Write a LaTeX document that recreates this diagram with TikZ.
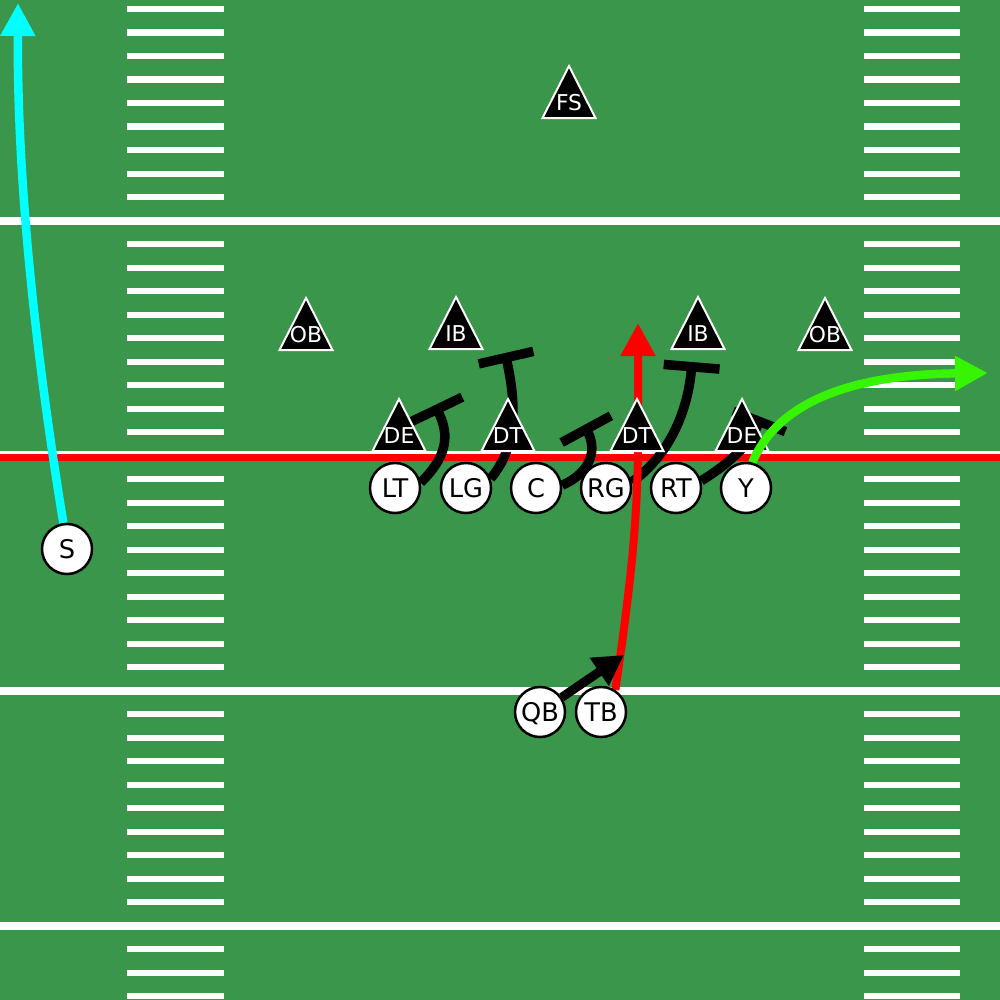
\documentclass[tikz,border=0pt]{standalone}
\usepackage{fontspec}
\setmainfont{DejaVu Sans}
\usetikzlibrary{arrows.meta}
\definecolor{field}{RGB}{58,150,75}
\definecolor{routegreen}{RGB}{55,245,0}
\definecolor{routecyan}{RGB}{0,255,255}
\definecolor{routered}{RGB}{255,0,0}
\pgfdeclarelayer{bg}
\pgfdeclarelayer{low}
\pgfdeclarelayer{tri}
\pgfdeclarelayer{high}
\pgfsetlayers{bg,low,tri,high,main}
\tikzset{
 player/.style={circle, draw=black, fill=white, line width=0.25mm, minimum size=5mm, inner sep=0pt,
   font=\fontsize{7.3pt}{7.3pt}\selectfont, text height=5.3pt, text depth=0pt},
 deflabel/.style={text=white, inner sep=0pt, font=\fontsize{6.2pt}{6.2pt}\selectfont,
   text height=4.5pt, text depth=0pt},
 deftri/.style={fill=black, draw=white, line width=0.2mm},
 block/.style={draw=black, line width=0.95mm, -{Bar[width=5.6mm]}},
 route/.style={line width=0.85mm, -{Triangle[length=3.3mm,width=3.3mm]}},
 hashmark/.style={white, line width=0.6mm},
 yardline/.style={white, line width=0.8mm},
}
\newcommand\Defender[4]{%
 \begin{pgfonlayer}{tri}
 \path[deftri] (#2-26.5,#3) -- (#2,#3-52) -- (#2+26.5,#3) -- cycle;
 \node[deflabel] (#1) at (#2,#3-15) {#4};
 \end{pgfonlayer}}
\begin{document}
\begin{tikzpicture}[x=0.01cm, y=-0.01cm]
\useasboundingbox (0,0) rectangle (1000,1000);
\begin{pgfonlayer}{bg}
\fill[field] (0,0) rectangle (1000,1000);
\foreach \k in {1,...,43} {
  \pgfmathsetmacro\yy{-14.5+23.5*\k}
  \draw[hashmark] (127,\yy) -- (224,\yy);
  \draw[hashmark] (864,\yy) -- (960,\yy);
}
\foreach \yy in {220.5,455,690.5,925.5} \draw[yardline] (0,\yy) -- (1000,\yy);
\draw[routered, line width=0.7mm] (0,457.5) -- (1000,457.5);
\end{pgfonlayer}

% offense
\node[player] (pLT) at (395,488) {LT};
\node[player] (pLG) at (466,488) {LG};
\node[player] (pC)  at (536,488) {C};
\node[player] (pRG) at (606,488) {RG};
\node[player] (pRT) at (676,488) {RT};
\node[player] (pY)  at (746,488) {Y};
\node[player] (pS)  at (67,549) {S};
\node[player] (pQB) at (540,712) {QB};
\node[player] (pTB) at (601,712) {TB};

% defense
\Defender{dFS}{569}{118}{FS}
\Defender{dOBL}{306}{350}{OB}
\Defender{dIBL}{456}{349}{IB}
\Defender{dIBR}{698}{349}{IB}
\Defender{dOBR}{825}{350}{OB}
\Defender{dDEL}{399}{451}{DE}
\Defender{dDTL}{508}{451}{DT}
\Defender{dDTR}{637}{451}{DT}
\Defender{dDER}{742}{451}{DE}

% route ends
\coordinate (bLT) at (435,405);
\coordinate (bLG) at (505,353);
\coordinate (bC)  at (584,425);
\coordinate (bRG) at (692,362);
\coordinate (bRT) at (761,417);
\coordinate (tTB) at (638,323);
\coordinate (tQB) at (624,655);
\coordinate (tY)  at (988,373);
\coordinate (tS)  at (18,3);

\begin{pgfonlayer}{low}
\draw[block] (pLT.12) .. controls (452,452) and (447,430) .. (bLT);
\draw[block] (pLG.21) .. controls (515,450) and (518,410) .. (bLG);
\draw[block] (pC.6) .. controls (592,472) and (597,449) .. (bC);
\draw[block] (pRG.13) .. controls (670,455) and (688,410) .. (bRG);
\draw[block] (pRT.16) .. controls (735,460) and (752,440) .. (bRT);
\draw[route, routered, line width=0.8mm] (pTB.57) .. controls (630,590) and (638,520) .. (638,440) -- (tTB);
\end{pgfonlayer}

\begin{pgfonlayer}{high}
\draw[route, routegreen] (pY.76) .. controls (770,420) and (820,375) .. (tY);
\draw[route, routecyan] (pS.98) .. controls (40,380) and (17,200) .. (tS);
\draw[route, black, line width=0.9mm, -{Triangle[length=3mm,width=3.2mm]}] (pQB.34) -- (tQB);
\end{pgfonlayer}
\end{tikzpicture}
\end{document}
